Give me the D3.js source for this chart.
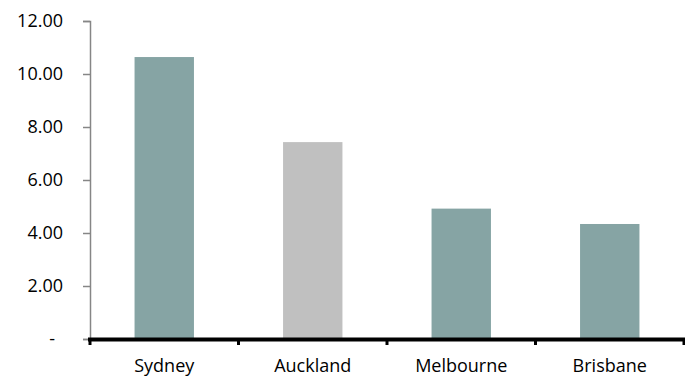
<!DOCTYPE html>
<html>
<head>
<meta charset="utf-8">
<script src="https://cdn.jsdelivr.net/npm/d3@7"></script>
<style>
  html, body { margin: 0; padding: 0; background: #fff; }
  svg { display: block; }
  text { font-family: "Open Sans", Lato, sans-serif; font-size: 18px; fill: #000; }
</style>
</head>
<body>
<svg id="chart" width="685" height="376"></svg>
<script>
const cities = ["Sydney", "Auckland", "Melbourne", "Brisbane"];
const values = [10.64, 7.43, 4.92, 4.34];
const barColors = ["#86A4A4", "#C0C0C0", "#86A4A4", "#86A4A4"];
const yTicks = [0, 2, 4, 6, 8, 10, 12];

const svg = d3.select("#chart");
const plotLeft = 90, plotRight = 684, plotTop = 21, plotBottom = 339;

const x = d3.scaleBand().domain(cities).range([plotLeft, plotRight]).paddingInner(0.6).paddingOuter(0.3);
const xb = d3.scaleBand().domain(cities).range([plotLeft, plotRight]);
const y = d3.scaleLinear().domain([0, 12]).range([plotBottom, plotTop]);

// bars
svg.append("g").selectAll("rect")
  .data(cities)
  .join("rect")
  .attr("x", d => x(d))
  .attr("width", x.bandwidth())
  .attr("y", (d, i) => y(values[i]))
  .attr("height", (d, i) => y(0) - y(values[i]))
  .attr("fill", (d, i) => barColors[i]);

// value axis (accounting-style format: zero shown as a dash)
const yAxis = d3.axisLeft(y)
  .tickValues(yTicks)
  .tickSize(7)
  .tickPadding(20)
  .tickFormat(d => d === 0 ? "-" : d3.format(".2f")(d));
const gy = svg.append("g").attr("transform", `translate(${plotLeft},0)`).call(yAxis);
gy.select(".domain").attr("stroke", "#868686").attr("stroke-width", 1.5);
gy.selectAll(".tick line").attr("stroke", "#868686").attr("stroke-width", 1.5);
gy.selectAll(".tick text")
  .style("font-family", "'Open Sans', Lato, sans-serif")
  .style("font-size", "18px")
  .attr("fill", "#000")
  .attr("dx", d => d === 0 ? -8 : 0);

// category axis: heavy baseline with boundary ticks
const gx = svg.append("g");
gx.append("line")
  .attr("x1", plotLeft - 2).attr("x2", plotRight + 1)
  .attr("y1", y(0) + 0.5).attr("y2", y(0) + 0.5)
  .attr("stroke", "#000").attr("stroke-width", 4);
const bounds = cities.map(c => xb(c)).concat([plotRight]);
gx.selectAll("line.b")
  .data(bounds)
  .join("line")
  .attr("class", "b")
  .attr("x1", d => d).attr("x2", d => d)
  .attr("y1", y(0)).attr("y2", y(0) + 6)
  .attr("stroke", "#000").attr("stroke-width", 3);
gx.selectAll("text.cat")
  .data(cities)
  .join("text")
  .attr("class", "cat")
  .attr("x", d => xb(d) + xb.bandwidth() / 2)
  .attr("y", 372)
  .attr("text-anchor", "middle")
  .text(d => d);
</script>
</body>
</html>
